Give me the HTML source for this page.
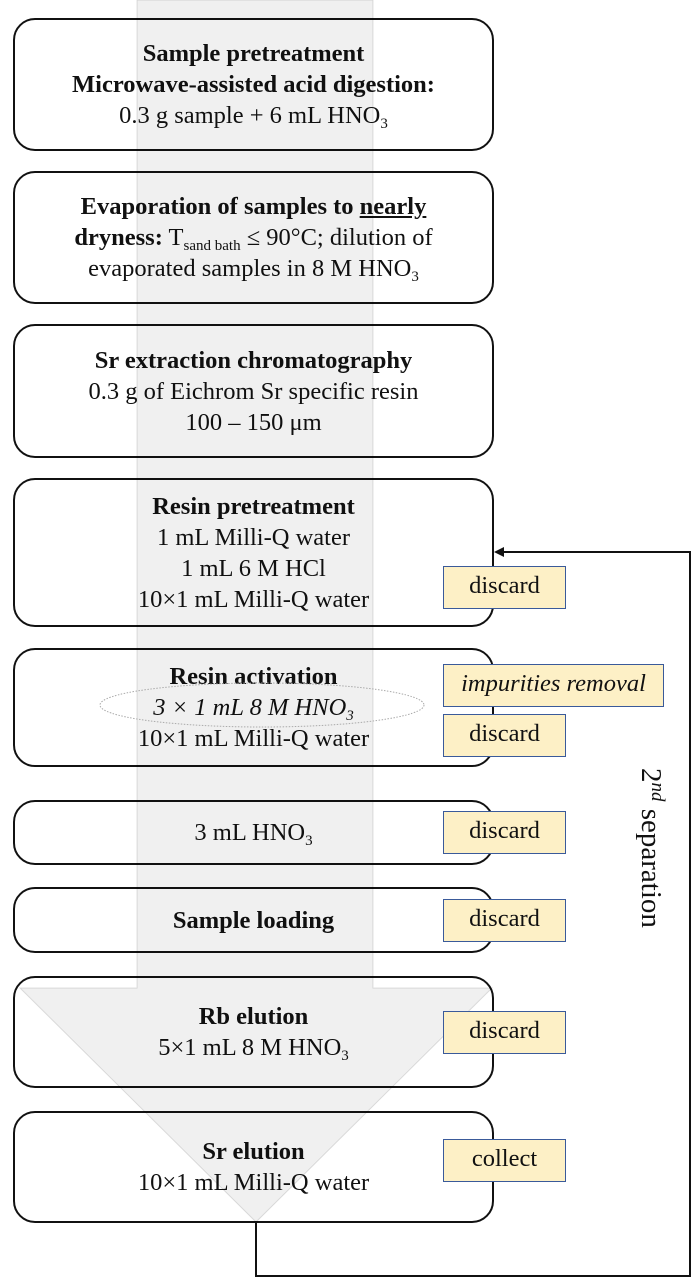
<!DOCTYPE html>
<html><head><meta charset="utf-8"><style>
body{margin:0;width:698px;height:1284px;background:#fff;position:relative;overflow:hidden;font-family:"Liberation Serif",serif;color:#111}
.b{position:absolute;left:13px;width:481px;border:2px solid #111;border-radius:22px;background:#fff;text-align:center;font-size:24.5px;line-height:31px;display:flex;flex-direction:column;justify-content:center;box-sizing:border-box}
.t{position:absolute;background:#fdf0c6;border:1.5px solid #3a5a9a;font-size:24.5px;text-align:center;box-sizing:border-box;line-height:38px;height:43px}
sub{font-size:15px;vertical-align:-5px;line-height:0}
b{font-weight:bold}
</style></head><body>
<div class="b" style="top:18px;height:133px"><div><b>Sample pretreatment</b></div><div><b>Microwave-assisted acid digestion:</b></div><div>0.3 g sample + 6 mL HNO<sub>3</sub></div></div>
<div class="b" style="top:171px;height:133px"><div><b>Evaporation of samples to <u>nearly</u></b></div><div><b>dryness:</b> T<sub>sand bath</sub> ≤ 90°C; dilution of</div><div>evaporated samples in 8 M HNO<sub>3</sub></div></div>
<div class="b" style="top:324px;height:134px"><div><b>Sr extraction chromatography</b></div><div>0.3 g of Eichrom Sr specific resin</div><div>100 – 150 μm</div></div>
<div class="b" style="top:478px;height:149px"><div><b>Resin pretreatment</b></div><div>1 mL Milli-Q water</div><div>1 mL 6 M HCl</div><div>10×1 mL Milli-Q water</div></div>
<div class="b" style="top:648px;height:119px"><div><b>Resin activation</b></div><div><i>3 × 1 mL 8 M HNO<sub>3</sub></i></div><div>10×1 mL Milli-Q water</div></div>
<div class="b" style="top:800px;height:65px"><div>3 mL HNO<sub>3</sub></div></div>
<div class="b" style="top:887px;height:66px"><div><b>Sample loading</b></div></div>
<div class="b" style="top:976px;height:112px"><div><b>Rb elution</b></div><div>5×1 mL 8 M HNO<sub>3</sub></div></div>
<div class="b" style="top:1111px;height:112px"><div><b>Sr elution</b></div><div>10×1 mL Milli-Q water</div></div>
<svg width="698" height="1284" style="position:absolute;left:0;top:0">
<polygon points="137,0 373,0 373,988 492,988 256,1222 20,988 137,988" fill="rgba(0,0,0,0.06)" stroke="rgba(0,0,0,0.12)" stroke-width="1"/>
<ellipse cx="262" cy="705" rx="162" ry="22" fill="none" stroke="#aaa" stroke-dasharray="1.5,1.5"/>
<polyline points="256,1223 256,1276 690,1276 690,552 500,552" fill="none" stroke="#111" stroke-width="2"/>
<polygon points="494,552 504,547 504,557" fill="#111"/>
<text transform="translate(642,768) rotate(90)" font-family="Liberation Serif" font-size="29" fill="#111">2<tspan font-size="19" dy="-10" font-style="italic">nd</tspan><tspan dy="10"> separation</tspan></text>
</svg>
<div class="t" style="left:443px;top:566px;width:123px">discard</div>
<div class="t" style="left:443px;top:664px;width:221px;font-style:italic">impurities removal</div>
<div class="t" style="left:443px;top:714px;width:123px">discard</div>
<div class="t" style="left:443px;top:811px;width:123px">discard</div>
<div class="t" style="left:443px;top:899px;width:123px">discard</div>
<div class="t" style="left:443px;top:1011px;width:123px">discard</div>
<div class="t" style="left:443px;top:1139px;width:123px">collect</div>
</body></html>
